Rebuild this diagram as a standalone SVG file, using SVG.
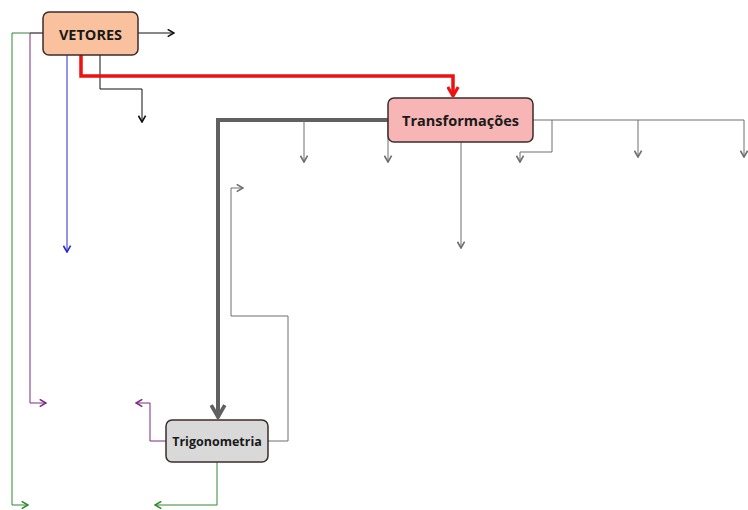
<svg xmlns="http://www.w3.org/2000/svg" width="748" height="510" viewBox="0 0 748 510">
<defs>
<style>
.node{stroke:#3b2b2b;stroke-width:1.5}
.lbl{font-family:"Open Sans","Liberation Sans",sans-serif;font-weight:bold;fill:#1a1a1a;text-anchor:middle;dominant-baseline:central}
.c{fill:none;stroke-linejoin:miter}
</style>
<marker id="aBlack" viewBox="0 0 10 10" refX="9" refY="5" markerWidth="9" markerHeight="9" markerUnits="userSpaceOnUse" orient="auto"><path d="M2,1 L9,5 L2,9" fill="none" stroke="#111" stroke-width="1.8"/></marker>
<marker id="aGray" viewBox="0 0 10 10" refX="9" refY="5" markerWidth="9" markerHeight="9" markerUnits="userSpaceOnUse" orient="auto"><path d="M2,1 L9,5 L2,9" fill="none" stroke="#6e6e6e" stroke-width="1.8"/></marker>
<marker id="aBlue" viewBox="0 0 10 10" refX="9" refY="5" markerWidth="9" markerHeight="9" markerUnits="userSpaceOnUse" orient="auto"><path d="M2,1 L9,5 L2,9" fill="none" stroke="#2a2ad0" stroke-width="1.8"/></marker>
<marker id="aPurple" viewBox="0 0 10 10" refX="9" refY="5" markerWidth="9" markerHeight="9" markerUnits="userSpaceOnUse" orient="auto"><path d="M2,1 L9,5 L2,9" fill="none" stroke="#7a2a80" stroke-width="1.8"/></marker>
<marker id="aGreen" viewBox="0 0 10 10" refX="9" refY="5" markerWidth="9" markerHeight="9" markerUnits="userSpaceOnUse" orient="auto"><path d="M2,1 L9,5 L2,9" fill="none" stroke="#2e8a2e" stroke-width="1.8"/></marker>
<marker id="aRed" viewBox="0 0 10 10" refX="9" refY="5" markerWidth="13" markerHeight="13" markerUnits="userSpaceOnUse" orient="auto"><path d="M2,1 L9,5 L2,9" fill="none" stroke="#ee1111" stroke-width="2.4"/></marker>
<marker id="aThick" viewBox="0 0 10 10" refX="9" refY="5" markerWidth="17" markerHeight="17" markerUnits="userSpaceOnUse" orient="auto"><path d="M2,1 L9,5 L2,9" fill="none" stroke="#606060" stroke-width="2.2"/></marker>
</defs>
<rect width="748" height="510" fill="#ffffff"/>
<g id="connectors">
<path class="c" d="M43,33 H12 V505 H28" stroke="#2e8a2e" stroke-width="1" marker-end="url(#aGreen)"/>
<path class="c" d="M43,33 H30 V403 H46" stroke="#7a2a80" stroke-width="1" marker-end="url(#aPurple)"/>
<path class="c" d="M67,55 V252" stroke="#2a2ad0" stroke-width="1" marker-end="url(#aBlue)"/>
<path class="c" d="M138,33 H174" stroke="#111" stroke-width="1" marker-end="url(#aBlack)"/>
<path class="c" d="M100,55 V89 H142 V122" stroke="#111" stroke-width="1" marker-end="url(#aBlack)"/>
<path class="c" d="M81,55 V76 H453 V96" stroke="#ee1111" stroke-width="3.5" marker-end="url(#aRed)"/>
<path class="c" d="M388,120 H218 V417" stroke="#606060" stroke-width="4" marker-end="url(#aThick)"/>
<path class="c" d="M304,120 V162" stroke="#6e6e6e" stroke-width="1" marker-end="url(#aGray)"/>
<path class="c" d="M388,120 V162" stroke="#6e6e6e" stroke-width="1" marker-end="url(#aGray)"/>
<path class="c" d="M533,120 H744 V157" stroke="#6e6e6e" stroke-width="1" marker-end="url(#aGray)"/>
<path class="c" d="M638,120 V157" stroke="#6e6e6e" stroke-width="1" marker-end="url(#aGray)"/>
<path class="c" d="M552,120 V152 H520 V162" stroke="#6e6e6e" stroke-width="1" marker-end="url(#aGray)"/>
<path class="c" d="M461,142 V248" stroke="#6e6e6e" stroke-width="1" marker-end="url(#aGray)"/>
<path class="c" d="M268,441 H288 V316 H231 V188 H243" stroke="#6e6e6e" stroke-width="1" marker-end="url(#aGray)"/>
<path class="c" d="M166,441 H150 V403 H136" stroke="#7a2a80" stroke-width="1" marker-end="url(#aPurple)"/>
<path class="c" d="M217,462 V505 H155" stroke="#2e8a2e" stroke-width="1" marker-end="url(#aGreen)"/>
</g>
<g id="vetores">
<rect class="node" x="43" y="12" width="95" height="43" rx="6" fill="#f9c19d"/>
<text class="lbl" x="90.5" y="34" font-size="14.5">VETORES</text>
</g>
<g id="transformacoes">
<rect class="node" x="388" y="98" width="145" height="44" rx="6" fill="#f8b5b5"/>
<text class="lbl" x="460.5" y="120" font-size="14.5">Transformações</text>
</g>
<g id="trigonometria">
<rect class="node" x="166" y="420" width="102" height="42" rx="6" fill="#d9d9d9"/>
<text class="lbl" x="217" y="441" font-size="12.5">Trigonometria</text>
</g>
</svg>
